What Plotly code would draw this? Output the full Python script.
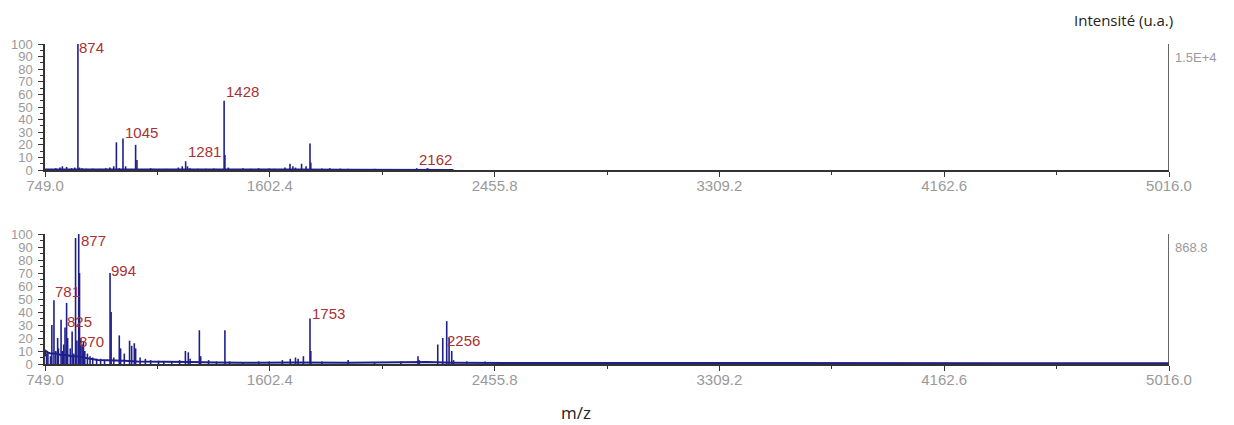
import plotly.graph_objects as go

# ---- data ----
# top spectrum: stick peaks (m/z, relative intensity %)
top_mz = [790, 806, 815, 831, 850, 862, 874, 880, 890, 905, 930, 960, 980, 995,
          1010, 1020, 1031, 1045, 1055, 1093, 1098, 1150, 1160, 1210, 1255, 1270,
          1283, 1290, 1300, 1330, 1360, 1390, 1429, 1432, 1445, 1500, 1530, 1560,
          1600, 1620, 1660, 1679, 1690, 1700, 1723, 1740, 1755, 1758, 1800, 1830,
          1870, 1900, 2000, 2160, 2200, 2205]
top_int = [1.5, 2, 3, 2.5, 1.5, 2, 100, 2, 1.5, 1, 1.2, 1, 1.5, 2,
           3, 22, 1.5, 25, 3, 20, 8, 1.5, 1, 1, 2, 3,
           7, 3, 1.5, 1, 1, 1.2, 55, 12, 2, 1.5, 1, 1.5,
           1.2, 1, 2, 5, 3, 2, 5, 3, 21, 6, 1.2, 1.5,
           1.2, 1, 1, 1.5, 1.5, 1.2]
top_base_mz = [749, 900, 1100, 1300, 1500, 1700, 1900, 2100, 2250, 2300]
top_base_int = [0.4, 0.5, 0.4, 0.5, 0.4, 0.5, 0.3, 0.4, 0.3, 0.0]

# bottom spectrum
bot_mz = [755, 760, 770, 775, 783, 790, 797, 800, 810, 815, 820, 825, 831, 835,
          845, 852, 858, 865, 870, 877, 880, 885, 890, 895, 900, 910, 920, 930,
          945, 960, 975, 996, 1000, 1010, 1031, 1036, 1050, 1070, 1078, 1088, 1093,
          1110, 1130, 1150, 1180, 1200, 1230, 1260, 1282, 1293, 1300, 1335, 1340,
          1370, 1400, 1432, 1450, 1500, 1560, 1600, 1650, 1680, 1700, 1710, 1730,
          1755, 1758, 1800, 1900, 2000, 2100, 2165, 2170, 2240, 2259, 2274, 2283,
          2293, 2300, 2350, 2420]
bot_int = [8, 9, 6, 30, 49, 10, 20, 12, 34, 10, 15, 28, 47, 20,
           12, 25, 8, 97, 18, 100, 70, 20, 15, 17, 10, 8, 6, 5,
           4, 4, 3, 70, 40, 5, 22, 12, 8, 18, 14, 16, 12,
           5, 4, 3, 2.5, 2, 2, 3, 10, 9, 4, 26, 6,
           3, 2, 26, 2, 1.5, 2, 2, 3, 4, 5, 4, 6,
           35, 10, 2, 3, 1.5, 2, 6, 3, 15, 20, 33, 20,
           10, 3, 2, 2]
bot_base_mz = [749, 752, 760, 770, 790, 810, 830, 850, 870, 890, 920, 950, 980,
               1000, 1050, 1100, 1150, 1200, 1300, 1400, 1500, 1700, 1900, 2200,
               2300, 2500, 3000, 4000, 5016]
bot_base_int = [6, 10, 9, 8, 8, 7, 7, 6, 6, 5, 4, 3, 3,
                2.5, 2.5, 2, 2, 1.5, 1.5, 1.2, 1, 1.2, 1, 1.5,
                1, 0.8, 0.8, 0.6, 0.5]

# peak labels (text, m/z position, intensity position)
top_labels = ["874", "1045", "1281", "1428", "2162"]
top_lab_x = [872, 1045, 1284, 1429, 2162]
top_lab_y = [97, 30, 15, 62, 8.5]
bot_labels = ["781", "877", "994", "825", "870", "1753", "2256"]
bot_lab_x = [779, 877, 993, 825, 870, 1755, 2268]
bot_lab_y = [56, 95, 72, 33, 17, 39, 18]

xtick_vals = [749.0, 1602.4, 2455.8, 3309.2, 4162.6, 5016.0]
xtick_text = ["749.0", "1602.4", "2455.8", "3309.2", "4162.6", "5016.0"]
ytick_vals = [0, 10, 20, 30, 40, 50, 60, 70, 80, 90, 100]
top_scale = "1.5E+4"
bot_scale = "868.8"

PEAK = "#1f1f8c"
LABEL = "#a83232"
GREY = "#9a9a9a"


def sticks(mz, inten):
    xs, ys = [], []
    for m, v in zip(mz, inten):
        xs += [m, m, None]
        ys += [0, v, None]
    return xs, ys


fig = go.Figure()

for mz, inten, bmz, bint, xa, ya in [
    (top_mz, top_int, top_base_mz, top_base_int, "x", "y"),
    (bot_mz, bot_int, bot_base_mz, bot_base_int, "x2", "y2"),
]:
    xs, ys = sticks(mz, inten)
    fig.add_trace(go.Scatter(x=xs, y=ys, mode="lines", xaxis=xa, yaxis=ya,
                             line=dict(color=PEAK, width=1.6), hoverinfo="skip"))
    fig.add_trace(go.Scatter(x=bmz, y=bint, mode="lines", xaxis=xa, yaxis=ya,
                             line=dict(color=PEAK, width=2), hoverinfo="skip"))

for labels, lx, ly, xr, yr in [
    (top_labels, top_lab_x, top_lab_y, "x", "y"),
    (bot_labels, bot_lab_x, bot_lab_y, "x2", "y2"),
]:
    for t, x, y in zip(labels, lx, ly):
        fig.add_annotation(x=x, y=y, xref=xr, yref=yr, text=t, showarrow=False,
                           xanchor="left", yanchor="middle",
                           font=dict(family="Liberation Sans", size=15, color=LABEL))

# right-hand scale bars
for xr, yr, txt in [("x", "y", top_scale), ("x2", "y2", bot_scale)]:
    fig.add_shape(type="line", xref=xr, yref=yr, x0=5016, x1=5016, y0=0, y1=100,
                  line=dict(color="#333333", width=1.5))
    fig.add_annotation(x=5016, y=100, xref=xr, yref=yr, text=txt, showarrow=False,
                       xanchor="left", yanchor="top", xshift=4, yshift=-4,
                       font=dict(family="Liberation Sans", size=13, color=GREY))

xaxis_style = dict(range=[749, 5016], tickmode="array", tickvals=xtick_vals,
                   ticktext=xtick_text, ticks="outside", ticklen=5, tickcolor="#333333",
                   showline=True, linecolor="#333333", linewidth=1.5,
                   showgrid=False, zeroline=False, automargin=False,
                   ticklabelstandoff=-4,
                   tickfont=dict(family="Liberation Sans", size=15, color=GREY),
                   minor=dict(tickmode="linear", tick0=749, dtick=426.7, ticks="outside",
                              ticklen=3, tickcolor="#333333"))
yaxis_style = dict(range=[0, 100], tickmode="array", tickvals=ytick_vals,
                   ticks="outside", ticklen=5, tickcolor="#333333",
                   showline=True, linecolor="#333333", linewidth=1.5,
                   showgrid=False, zeroline=False, automargin=False,
                   ticklabelstandoff=3,
                   tickfont=dict(family="Liberation Sans", size=13, color=GREY),
                   minor=dict(tickmode="linear", tick0=0, dtick=5, ticks="outside",
                              ticklen=3, tickcolor="#333333"))

# the page body adds an 8px offset, so margins are shifted by that much
fig.update_layout(
    width=1234, height=425,
    margin=dict(l=37, r=73, t=36, b=69),
    paper_bgcolor="white", plot_bgcolor="white",
    showlegend=False,
    xaxis=dict(domain=[0, 1], anchor="y", **xaxis_style),
    yaxis=dict(domain=[0.606, 1], anchor="x", **yaxis_style),
    xaxis2=dict(domain=[0, 1], anchor="y2", **xaxis_style),
    yaxis2=dict(domain=[0, 0.406], anchor="x2", **yaxis_style),
)

fig.add_annotation(x=1.0053, y=1.075, xref="paper", yref="paper", text="Intensité (u.a.)",
                   showarrow=False, xanchor="right", yanchor="middle",
                   font=dict(family="Open Sans", size=15, color="#222222"))
fig.add_annotation(x=0.4724, y=-0.15, xref="paper", yref="paper", text="m/z",
                   showarrow=False, xanchor="center", yanchor="middle",
                   font=dict(family="Open Sans", size=17, color="#222222"))

fig.write_html("out.html")
